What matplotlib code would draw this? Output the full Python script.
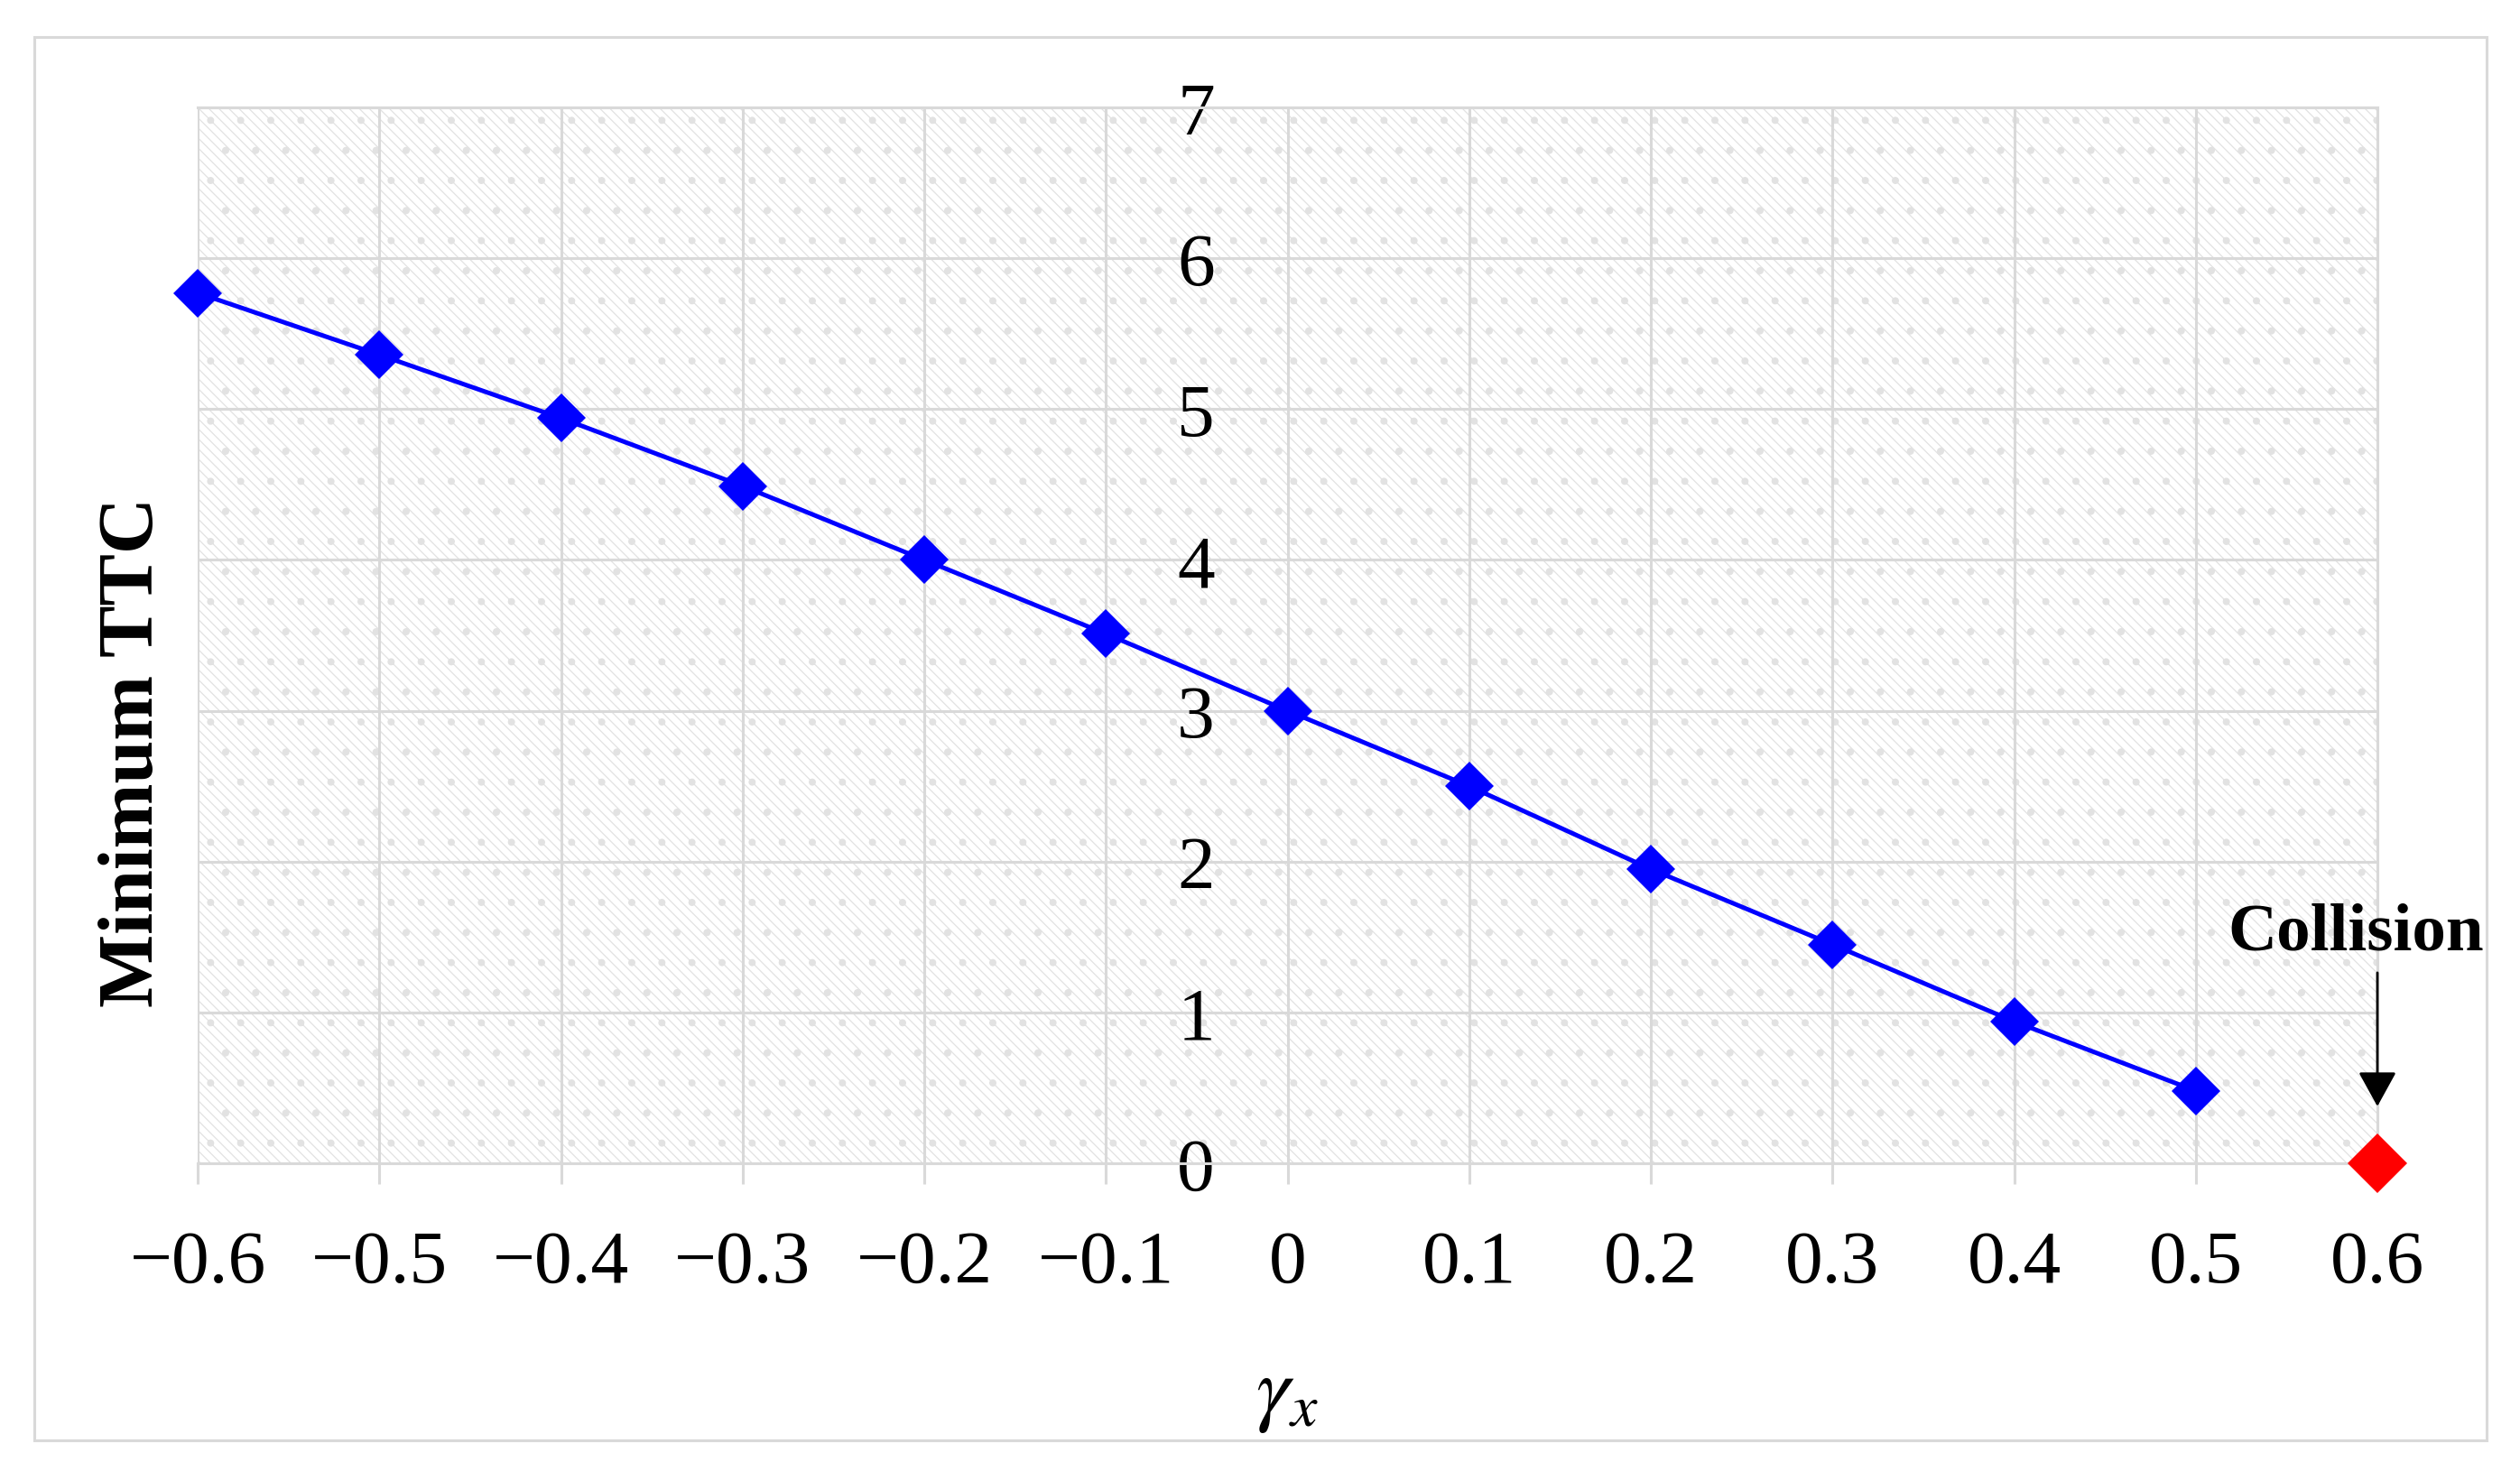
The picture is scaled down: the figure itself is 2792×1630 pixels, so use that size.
import matplotlib
matplotlib.use("Agg")
import matplotlib.pyplot as plt
from matplotlib.patches import Rectangle

# ---- data ----
gamma_x = [-0.6, -0.5, -0.4, -0.3, -0.2, -0.1, 0.0, 0.1, 0.2, 0.3, 0.4, 0.5]
min_ttc = [5.77, 5.36, 4.94, 4.49, 4.00, 3.51, 3.00, 2.50, 1.95, 1.45, 0.94, 0.48]
collision_x = [0.6]
collision_y = [0.0]
x_ticks = [-0.6, -0.5, -0.4, -0.3, -0.2, -0.1, 0.0, 0.1, 0.2, 0.3, 0.4, 0.5, 0.6]
x_ticklabels = ["\u22120.6", "\u22120.5", "\u22120.4", "\u22120.3", "\u22120.2", "\u22120.1",
                "0", "0.1", "0.2", "0.3", "0.4", "0.5", "0.6"]
y_ticks = [0, 1, 2, 3, 4, 5, 6, 7]
y_ticklabels = ["0", "1", "2", "3", "4", "5", "6", "7"]
x_label = r"$\gamma_x$"
y_label = "Minimum TTC"
note_text = "Collision"

plt.rcParams["font.family"] = ["Liberation Serif", "DejaVu Serif"]
plt.rcParams["mathtext.fontset"] = "stix"
plt.rcParams["hatch.color"] = "#e2e2e2"
plt.rcParams["hatch.linewidth"] = 0.45

DPI = 200
fig = plt.figure(figsize=(2792 / DPI, 1631 / DPI), dpi=DPI)
fig.patch.set_facecolor("white")

# outer frame
fig.patches.append(Rectangle((38 / 2792, 34 / 1631), 2717 / 2792, 1555 / 1631,
                             transform=fig.transFigure, fill=False,
                             edgecolor="#d9d9d9", linewidth=1.1, zorder=0))

ax = fig.add_axes([219 / 2792, 341 / 1631, 2415 / 2792, 1170 / 1631])
ax.set_xlim(-0.6, 0.6)
ax.set_ylim(0, 7)

# hatched background
ax.patch.set_facecolor("white")
ax.patch.set_hatch("\\\\\\\\\\\\.")
ax.patch.set_edgecolor("#e2e2e2")
ax.patch.set_linewidth(0)

grid_color = "#d9d9d9"
ax.set_axisbelow(True)
ax.grid(True, color=grid_color, linewidth=1.1)
for s in ax.spines.values():
    s.set_color(grid_color)
    s.set_linewidth(1.1)
ax.spines["left"].set_position(("data", 0))
ax.spines["left"].set_visible(False)

ax.set_xticks(x_ticks)
ax.set_xticklabels(x_ticklabels)
ax.set_yticks(y_ticks)
ax.set_yticklabels(y_ticklabels)
ax.tick_params(axis="x", direction="out", length=8.3, width=1.1, color=grid_color,
               labelsize=30, pad=18)
ax.tick_params(axis="y", length=0, labelsize=30, pad=29)

ax.plot(gamma_x, min_ttc, color="#0000ff", linewidth=1.8, marker="D",
        markersize=14, markeredgewidth=0, clip_on=False, zorder=5)
ax.plot(collision_x, collision_y, linestyle="none", color="#ff0000", marker="D",
        markersize=17, markeredgewidth=0, clip_on=False, zorder=6)

ax.annotate("", xy=(collision_x[0], collision_y[0]), xycoords="data",
            xytext=(0, 76), textcoords="offset points",
            arrowprops=dict(arrowstyle="-|>,head_length=0.4,head_width=0.22",
                            mutation_scale=30, color="black", lw=1.0,
                            shrinkA=0, shrinkB=22.7),
            annotation_clip=False, zorder=7)
ax.annotate(note_text, xy=(collision_x[0], collision_y[0]), xycoords="data",
            xytext=(-8.6, 92), textcoords="offset points",
            ha="center", va="center", fontsize=27, fontweight="bold",
            annotation_clip=False, zorder=7)

ax.set_xlabel(x_label, fontsize=34, labelpad=24)
ax.set_ylabel(y_label, fontsize=31, fontweight="bold")
ax.yaxis.set_label_coords(-0.0128, 0.39)

fig.savefig("out.png", dpi=DPI)
